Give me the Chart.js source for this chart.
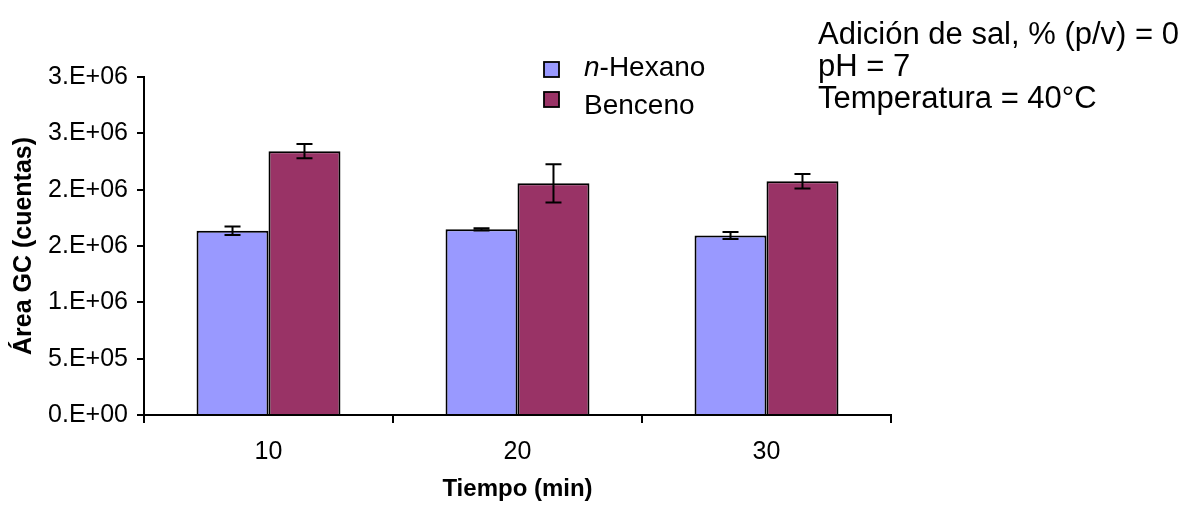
<!DOCTYPE html>
<html>
<head>
<meta charset="utf-8">
<script src="https://cdn.jsdelivr.net/npm/chart.js@4"></script>
<style>
  html, body { margin: 0; padding: 0; background: #fff; }
  #wrap { position: relative; width: 1186px; height: 507px; }
</style>
</head>
<body>
<div id="wrap"><canvas id="c" width="1186" height="507"></canvas></div>
<script>
// Extraction time (min)
const categories = ['10', '20', '30'];
// Mean GC peak area (counts) and standard deviation per analyte
const hexanoValues = [1635000, 1648000, 1594000];
const hexanoErrors = [38000, 10000, 31000];
const bencenoValues = [2342000, 2056000, 2074000];
const bencenoErrors = [64000, 169000, 64000];
// Y tick labels as formatted with one significant digit (0.E+00)
const yTickLabels = ['0.E+00', '5.E+05', '1.E+06', '2.E+06', '2.E+06', '3.E+06', '3.E+06'];
const seriesNames = ['n-Hexano', 'Benceno'];
const conditionLines = ['Adición de sal, % (p/v) = 0', 'pH = 7', 'Temperatura = 40°C'];

const FONT = '"Liberation Sans", Arial, sans-serif';

// Vertical error bars for each bar, positioned through the value scale
const errorBars = {
  id: 'errorBars',
  afterDatasetsDraw(chart) {
    const ctx = chart.ctx;
    const y = chart.scales.y;
    ctx.save();
    ctx.strokeStyle = '#000';
    ctx.lineWidth = 2;
    chart.data.datasets.forEach((ds, di) => {
      const meta = chart.getDatasetMeta(di);
      meta.data.forEach((bar, i) => {
        const v = ds.data[i], e = ds.errors[i];
        const yHi = y.getPixelForValue(v + e);
        const yLo = y.getPixelForValue(v - e);
        const x = bar.x, cap = 8;
        ctx.beginPath();
        ctx.moveTo(x, yHi); ctx.lineTo(x, yLo);
        ctx.moveTo(x - cap, yHi); ctx.lineTo(x + cap, yHi);
        ctx.moveTo(x - cap, yLo); ctx.lineTo(x + cap, yLo);
        ctx.stroke();
      });
    });
    ctx.restore();
  }
};

// Legend with italic "n" prefix, and the experimental conditions text block
const legendAndNotes = {
  id: 'legendAndNotes',
  afterDraw(chart) {
    const ctx = chart.ctx;
    ctx.save();
    const rows = [{y: 62, ty: 68}, {y: 92, ty: 106}];
    chart.data.datasets.forEach((ds, i) => {
      const r = rows[i];
      ctx.fillStyle = ds.backgroundColor;
      ctx.fillRect(544, r.y, 15, 15);
      ctx.strokeStyle = '#000';
      ctx.lineWidth = 1.8;
      ctx.strokeRect(544, r.y, 15, 15);
      ctx.fillStyle = '#000';
      ctx.textBaseline = 'middle';
      ctx.textAlign = 'left';
      const name = seriesNames[i];
      let x = 584;
      if (name.startsWith('n-')) {
        ctx.font = 'italic 28px ' + FONT;
        ctx.fillText('n', x, r.ty);
        x += ctx.measureText('n').width;
        ctx.font = '28px ' + FONT;
        ctx.fillText(name.slice(1), x, r.ty);
      } else {
        ctx.font = '28px ' + FONT;
        ctx.fillText(name, x, r.ty);
      }
    });
    ctx.font = '31px ' + FONT;
    ctx.fillStyle = '#000';
    ctx.textBaseline = 'alphabetic';
    conditionLines.forEach((t, i) => ctx.fillText(t, 818, 44 + i * 32));
    ctx.restore();
  }
};

new Chart(document.getElementById('c'), {
  type: 'bar',
  data: {
    labels: categories,
    datasets: [
      { label: seriesNames[0], data: hexanoValues, errors: hexanoErrors,
        backgroundColor: '#9999FF', borderColor: '#000', borderWidth: 2,
        categoryPercentage: 0.578, barPercentage: 1.0 },
      { label: seriesNames[1], data: bencenoValues, errors: bencenoErrors,
        backgroundColor: '#993366', borderColor: '#000', borderWidth: 2,
        categoryPercentage: 0.578, barPercentage: 1.0 }
    ]
  },
  options: {
    responsive: false,
    animation: false,
    layout: { padding: { left: 0, top: 77, right: 295, bottom: 0 } },
    plugins: { legend: { display: false }, tooltip: { enabled: false } },
    scales: {
      x: {
        afterFit(s) { s.height = 92; },
        grid: { offset: true, drawOnChartArea: false, tickLength: 8, color: '#000', lineWidth: 2 },
        border: { color: '#000', width: 2 },
        ticks: { color: '#000', font: { family: FONT, size: 25 }, padding: 14 },
        title: { display: true, text: 'Tiempo (min)', color: '#000',
                 font: { family: FONT, size: 24, weight: 'bold' }, padding: { top: 0, bottom: 3 } }
      },
      y: {
        min: 0, max: 3000000,
        afterFit(s) { s.width = 144; },
        afterBuildTicks(s) {
          s.ticks = yTickLabels.map((_, i) => ({ value: i * 500000 }));
        },
        grid: { drawOnChartArea: false, tickLength: 7, color: '#000', lineWidth: 2 },
        border: { color: '#000', width: 2 },
        ticks: { color: '#000', font: { family: FONT, size: 25 }, padding: 9,
                 callback: (v, i) => yTickLabels[i] },
        title: { display: true, text: 'Área GC (cuentas)', color: '#000',
                 font: { family: FONT, size: 25, weight: 'bold' }, padding: { top: 9, bottom: 0 } }
      }
    }
  },
  plugins: [errorBars, legendAndNotes]
});
</script>
</body>
</html>
